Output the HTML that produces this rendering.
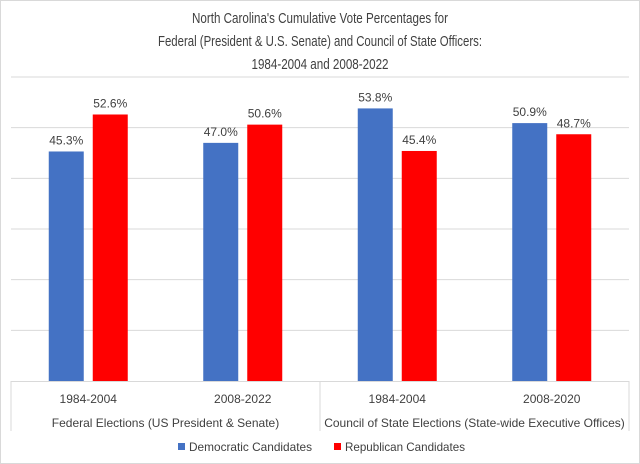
<!DOCTYPE html>
<html><head><meta charset="utf-8"><style>
html,body{margin:0;padding:0;background:#fff;}
svg{display:block;font-family:"Liberation Sans",sans-serif;}
</style></head><body>
<svg width="640" height="464" viewBox="0 0 640 464" xmlns="http://www.w3.org/2000/svg">
<rect x="0.5" y="0.5" width="639" height="463" fill="#fff" stroke="#d9d9d9"/>
<g font-size="15" fill="#404040" text-anchor="middle">
<text x="320" y="23" textLength="256" lengthAdjust="spacingAndGlyphs">North Carolina's Cumulative Vote Percentages for</text>
<text x="320" y="46" textLength="324" lengthAdjust="spacingAndGlyphs">Federal (President &amp; U.S. Senate) and Council of State Officers:</text>
<text x="320" y="69" textLength="137" lengthAdjust="spacingAndGlyphs">1984-2004 and 2008-2022</text>
</g>
<g id="grid"></g>
<g id="bars"></g>
<g id="axis" font-size="12" fill="#404040" text-anchor="middle"></g>
<g font-size="12" fill="#404040">
<g><rect x="178" y="443" width="7" height="7" fill="#4472c4"/><text x="189" y="451" textLength="123" lengthAdjust="spacingAndGlyphs">Democratic Candidates</text></g>
<g><rect x="334" y="443" width="7" height="7" fill="#ff0000"/><text x="345" y="451" textLength="120" lengthAdjust="spacingAndGlyphs">Republican Candidates</text></g>
</g>
</svg>
<script>
const categories = ["1984-2004","2008-2022","1984-2004","2008-2020"];
const groups = ["Federal Elections (US President & Senate)","Council of State Elections (State-wide Executive Offices)"];
const democratic = [45.3,47.0,53.8,50.9];
const republican = [52.6,50.6,45.4,48.7];
const yTicks = [0,10,20,30,40,50,60];

const NS="http://www.w3.org/2000/svg";
const plotLeft=11,plotRight=629,plotBase=381,plotTop=77,yMax=60;
const yScale=v=>plotBase-(v/yMax)*(plotBase-plotTop);
const cw=(plotRight-plotLeft)/categories.length;
const xc=i=>plotLeft+cw*(i+0.5);
function mk(tag,attrs,parent){const e=document.createElementNS(NS,tag);for(const k in attrs)e.setAttribute(k,attrs[k]);parent.appendChild(e);return e;}
const grid=document.getElementById('grid'),bars=document.getElementById('bars'),axis=document.getElementById('axis');
yTicks.forEach(t=>{if(t===0)return;const l=mk('line',{x1:plotLeft,x2:plotRight,y1:yScale(t),y2:yScale(t),stroke:'#d9d9d9','stroke-width':1},grid);

});
const bw=35,gap=9;
function bar(i,v,col,dx,name){
  const x=xc(i)+dx;
  const r=mk('rect',{x:x,y:yScale(v),width:bw,height:plotBase-yScale(v),fill:col},bars);
  
  
  const t=mk('text',{x:x+bw/2,y:yScale(v)-7,'font-size':12,fill:'#404040','text-anchor':'middle'},bars);
  
  
  t.textContent=v.toFixed(1)+'%';
}
categories.forEach((c,i)=>{
  bar(i,democratic[i],'#4472c4',-bw-gap/2,'democratic');
  bar(i,republican[i],'#ff0000',gap/2,'republican');
  const t=mk('text',{x:xc(i),y:403},axis);
  
  
  t.textContent=c;
});
const bl=mk('line',{x1:plotLeft,x2:plotRight,y1:plotBase+0.5,y2:plotBase+0.5,stroke:'#d9d9d9'},axis);


[plotLeft,(plotLeft+plotRight)/2,plotRight].forEach(x=>{const l=mk('line',{x1:x,x2:x,y1:plotBase,y2:431,stroke:'#d9d9d9'},axis);

});
groups.forEach((g,i)=>{const t=mk('text',{x:xc(i*2)+cw/2,y:427},axis);


t.textContent=g;});
</script>
</body></html>
